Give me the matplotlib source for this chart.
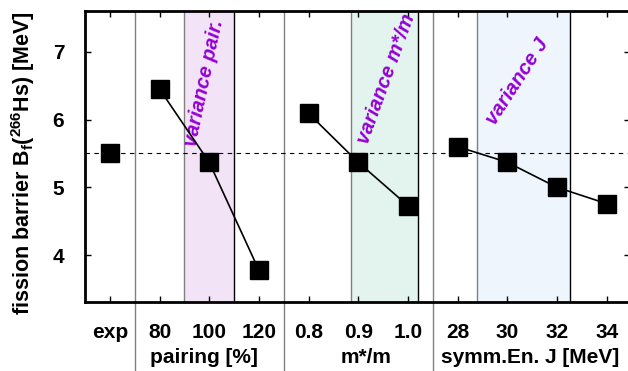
import numpy as np
import matplotlib
matplotlib.use("Agg")
import matplotlib.pyplot as plt
import matplotlib.transforms as mtransforms

plt.rcParams['font.family'] = ['Liberation Sans', 'DejaVu Sans']
plt.rcParams['font.weight'] = 'bold'
plt.rcParams['mathtext.fontset'] = 'custom'
plt.rcParams['mathtext.rm'] = 'Liberation Sans:bold'
plt.rcParams['mathtext.bf'] = 'Liberation Sans:bold'
plt.rcParams['mathtext.it'] = 'Liberation Sans:bold:italic'

# data
tick_labels = ['exp', '80', '100', '120', '0.8', '0.9', '1.0', '28', '30', '32', '34']
exp_barrier = [5.5]
pairing_barrier = [6.45, 5.37, 3.78]     # pairing 80, 100, 120 %
meff_barrier = [6.09, 5.37, 4.73]        # m*/m 0.8, 0.9, 1.0
symm_barrier = [5.60, 5.37, 5.00, 4.76]  # J 28, 30, 32, 34 MeV
group_names = ['pairing [%]', 'm*/m', 'symm.En. J [MeV]']
band_names = ['variance pair.', 'variance m*/m', 'variance J']

x_exp = [0]
x_pair = [1, 2, 3]
x_meff = [4, 5, 6]
x_symm = [7, 8, 9, 10]

fig = plt.figure(figsize=(6.28, 3.71), dpi=100)
ax = fig.add_axes([85/628, 69/371, 545/628, 291/371])
ax.set_xlim(-0.5, 10.47)
ax.set_ylim(3.31, 7.60)

# variance bands
bands = [(1.5, 2.5, '#f3e3f7'), (4.86, 6.2, '#e3f3ee'), (7.4, 9.27, '#eef5fc')]
for x0, x1, col in bands:
    ax.axvspan(x0, x1, color=col, lw=0, zorder=0)
    ax.axvline(x0, color='#808080', lw=1.0, zorder=1)
    ax.axvline(x1, color='black', lw=1.0, zorder=1)

# group separators (extend down through tick labels)
trans = mtransforms.blended_transform_factory(ax.transData, ax.transAxes)
for xs in [0.5, 3.5, 6.5]:
    ax.plot([xs, xs], [-0.24, 1.0], transform=trans, color='#808080',
            lw=1.0, clip_on=False, zorder=1)

# experimental value
ax.axhline(exp_barrier[0], color='black', lw=0.8, ls=(0, (4, 4)), zorder=1)

mk = dict(marker='s', ms=13.5, color='black', mfc='black', lw=1.2, zorder=3)
ax.plot(x_exp, exp_barrier, **mk)
ax.plot(x_pair, pairing_barrier, **mk)
ax.plot(x_meff, meff_barrier, **mk)
ax.plot(x_symm, symm_barrier, **mk)

# variance labels
purple = '#9400d3'
label_pos = [(1.73, 5.59, 78), (5.19, 5.62, 70), (7.75, 5.90, 57)]
for (tx, ty, rot), name in zip(label_pos, band_names):
    ax.text(tx, ty, name, rotation=rot, rotation_mode='anchor', ha='left',
            va='baseline', color=purple, fontsize=14.5, fontweight='bold',
            fontstyle='italic', clip_on=True, zorder=2)

ax.set_xticks(range(len(tick_labels)))
ax.set_xticklabels(tick_labels)
ax.set_yticks([4, 5, 6, 7])
ax.tick_params(axis='both', direction='in', length=4, width=1.0,
               labelsize=15, top=True, right=True)
ax.tick_params(axis='x', pad=15)
ax.tick_params(axis='y', pad=15)
for s in ax.spines.values():
    s.set_linewidth(2.0)

for gx, name in zip([1.9, 5.15, 8.45], group_names):
    ax.text(gx, -0.19, name, transform=trans, ha='center', va='center',
            fontsize=15, fontweight='bold')

ax.set_ylabel(r'fission barrier B$_\mathrm{f}$($^{\mathrm{266}}$Hs) [MeV]',
              fontsize=15.5, fontweight='bold')
ax.yaxis.set_label_coords(-0.088, 0.476)

fig.savefig('out.png', dpi=100)
